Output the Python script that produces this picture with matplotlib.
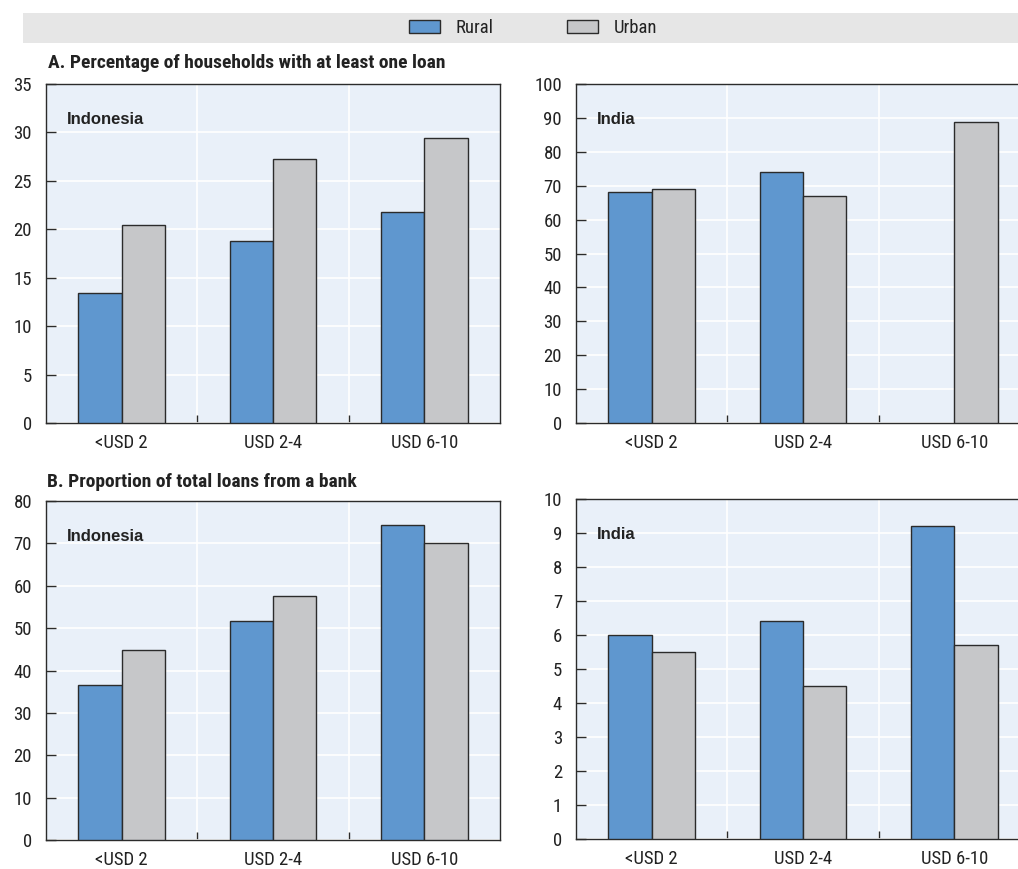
import numpy as np
import matplotlib
matplotlib.use("Agg")
import matplotlib.pyplot as plt
from matplotlib.patches import Rectangle, Patch

# Expenditure brackets
categories = ["<USD 2", "USD 2-4", "USD 6-10"]

# Panel A: percentage of households with at least one loan
indonesia_loan_rural = [13.4, 18.8, 21.8]
indonesia_loan_urban = [20.4, 27.3, 29.4]
india_loan_rural = [68.0, 74.1, np.nan]
india_loan_urban = [68.9, 67.1, 88.9]

# Panel B: proportion of total loans from a bank
indonesia_bank_rural = [36.5, 51.7, 74.3]
indonesia_bank_urban = [44.8, 57.5, 70.1]
india_bank_rural = [6.0, 6.4, 9.2]
india_bank_urban = [5.5, 4.5, 5.7]

RURAL = "#5f97cf"
URBAN = "#c6c7c9"
EDGE = "#2b2b2b"
BG = "#e9f0f9"
NARROW = ["Liberation Sans Narrow", "Roboto Condensed", "DejaVu Sans"]
BOLD = ["Liberation Sans", "DejaVu Sans"]
TICK_FS = 13.5

fig = plt.figure(figsize=(10.18, 8.69), dpi=100)
W, H = 1018.0, 869.0


def add_axes(left, top, right, bottom):
    return fig.add_axes([left / W, 1 - bottom / H, (right - left) / W, (bottom - top) / H])


def draw_panel(ax, rural, urban, ymax, step, country):
    x = np.arange(len(categories))
    w = 0.286
    ax.set_facecolor(BG)
    ax.bar(x - w / 2, rural, width=w, color=RURAL, edgecolor=EDGE, linewidth=1.0, zorder=3)
    ax.bar(x + w / 2, urban, width=w, color=URBAN, edgecolor=EDGE, linewidth=1.0, zorder=3)
    ax.set_xlim(-0.5, len(categories) - 0.5)
    ax.set_ylim(0, ymax)
    ax.set_yticks(np.arange(0, ymax + step / 2, step))
    ax.set_xticks(x)
    ax.set_xticklabels(categories, fontfamily=NARROW, fontsize=TICK_FS, color="#222222")
    ax.set_xticks(x[:-1] + 0.5, minor=True)
    ax.tick_params(axis="x", which="major", length=0, pad=8)
    ax.tick_params(axis="x", which="minor", direction="in", length=6, width=1, color=EDGE)
    ax.tick_params(axis="y", direction="in", length=7, width=1, color=EDGE, pad=10,
                   labelsize=TICK_FS, labelcolor="#222222")
    for lab in ax.get_yticklabels():
        lab.set_fontfamily(NARROW)
    ax.grid(True, axis="y", color="white", linewidth=1.2, zorder=0)
    ax.grid(True, axis="x", which="minor", color="white", linewidth=1.2, zorder=0)
    ax.set_axisbelow(True)
    for s in ax.spines.values():
        s.set_color(EDGE)
        s.set_linewidth(1.0)
    ax.text(0.045, 0.895, country, transform=ax.transAxes, fontfamily=BOLD,
            fontweight="bold", fontsize=12, color="#222222", va="center", ha="left")


ax1 = add_axes(46, 84, 500, 423)
ax2 = add_axes(576, 84, 1030, 423)
ax3 = add_axes(46, 501, 500, 840)
ax4 = add_axes(576, 499, 1030, 839)

draw_panel(ax1, indonesia_loan_rural, indonesia_loan_urban, 35, 5, "Indonesia")
draw_panel(ax2, india_loan_rural, india_loan_urban, 100, 10, "India")
draw_panel(ax3, indonesia_bank_rural, indonesia_bank_urban, 80, 10, "Indonesia")
draw_panel(ax4, india_bank_rural, india_bank_urban, 10, 1, "India")

# Panel headings
fig.text(48 / W, 1 - 63 / H, "A. Percentage of households with at least one loan",
         fontfamily=NARROW, fontweight="bold", fontsize=14, color="#222222",
         va="center", ha="left")
fig.text(47 / W, 1 - 482 / H, "B. Proportion of total loans from a bank",
         fontfamily=NARROW, fontweight="bold", fontsize=14, color="#222222",
         va="center", ha="left")

# Legend band
fig.patches.append(Rectangle((23 / W, 1 - 43 / H), 1.0, 30 / H, transform=fig.transFigure,
                             facecolor="#e6e6e6", edgecolor="none", zorder=0))
handles = [Patch(facecolor=RURAL, edgecolor=EDGE, linewidth=1.0, label="Rural"),
           Patch(facecolor=URBAN, edgecolor=EDGE, linewidth=1.0, label="Urban")]
leg = fig.legend(handles=handles, loc="center left", bbox_to_anchor=(409 / W, 1 - 28 / H),
                 ncol=2, frameon=False, prop={"family": NARROW, "size": 13.5},
                 handlelength=1.65, handleheight=0.75, handletextpad=0.85,
                 columnspacing=3.9, borderpad=0, borderaxespad=0)
for t in leg.get_texts():
    t.set_color("#222222")

fig.savefig("out.png", dpi=100)
